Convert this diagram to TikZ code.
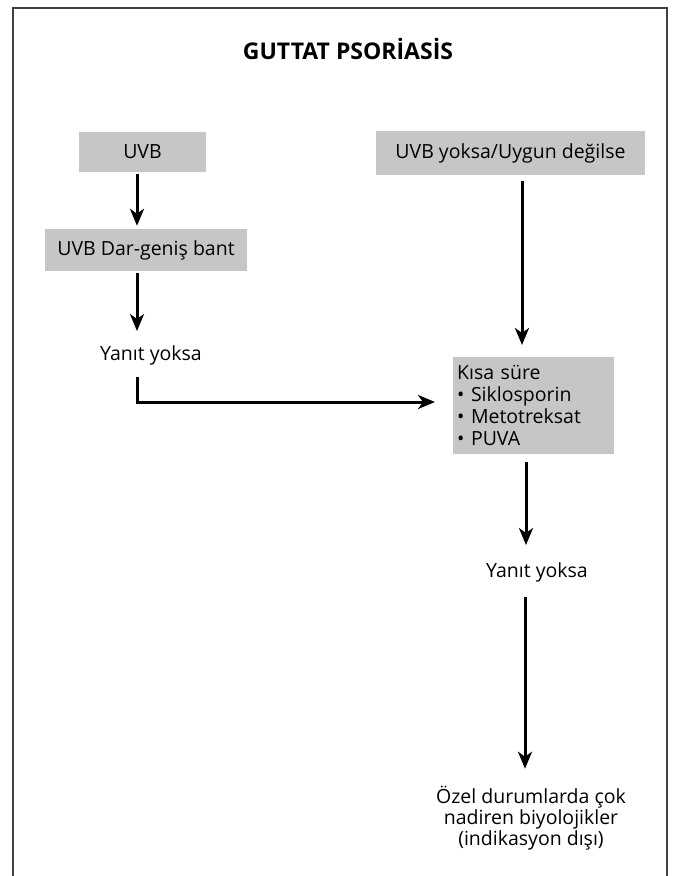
\documentclass[tikz,border=0pt]{standalone}
\usepackage{fontspec}
\setmainfont{Open Sans}
\usetikzlibrary{arrows.meta}
\definecolor{boxgray}{RGB}{198,198,198}
\begin{document}
\begin{tikzpicture}[x=1pt,y=1pt,
  box/.style={fill=boxgray, draw=none, inner sep=0pt, font=\fontsize{19.5}{22}\selectfont},
  plain/.style={inner sep=0pt, font=\fontsize{19.5}{21}\selectfont, align=center},
  arr/.style={line width=3pt, -{Stealth[length=17pt,width=14pt,inset=5pt]}},
  frame/.style={line width=1.5pt, draw=black!75}]
\useasboundingbox (0,0) rectangle (676,-876);
\draw[frame] (13,-876) -- (13,-8) -- (667,-8) -- (667,-876);
\node[font=\bfseries\fontsize{23}{27}\selectfont] (title) at (348,-49) {GUTTAT PSOR\.IAS\.IS};
\node[box, minimum width=127pt, minimum height=40pt] (uvb) at (142.5,-152) {UVB};
\node[box, minimum width=202pt, minimum height=42pt] (dar) at (146,-250) {UVB Dar-geniş bant};
\node[box, minimum width=269pt, minimum height=44pt] (yok) at (510.5,-153) {UVB yoksa/Uygun değilse};
\node[box, anchor=north west, minimum width=159pt, minimum height=97pt, text width=153pt, inner xsep=4pt, inner ysep=3pt, align=left] (kisa) at (453,-357) {Kısa süre\\• Siklosporin\\• Metotreksat\\• PUVA};
\node[plain] (yan1) at (151,-355) {Yanıt yoksa};
\node[plain] (yan2) at (537,-572) {Yanıt yoksa};
\node[plain] (biyo) at (531,-818) {Özel durumlarda çok\\nadiren biyolojikler\\(indikasyon dışı)};
\coordinate (c137) at (137,0);
\coordinate (c522) at (522,0);
\coordinate (c526) at (526,0);
\coordinate (c525) at (525,0);
\coordinate (corner) at (137,-402);
\draw[arr, shorten <=2pt, shorten >=3pt] (uvb.south -| c137) -- (dar.north -| c137);
\draw[arr, shorten <=2pt, shorten >=14pt] (dar.south -| c137) -- (yan1.north -| c137);
\draw[arr, shorten <=12pt, shorten >=18pt] (yan1.south -| c137) -- (corner) -- (kisa.west |- corner);
\draw[arr, shorten <=6pt, shorten >=12pt] (yok.south -| c522) -- (kisa.north -| c522);
\draw[arr, shorten <=8pt, shorten >=17pt] (kisa.south -| c526) -- (yan2.north -| c526);
\draw[arr, shorten <=15pt, shorten >=17pt] (yan2.south -| c525) -- (biyo.north -| c525);
\end{tikzpicture}
\end{document}
